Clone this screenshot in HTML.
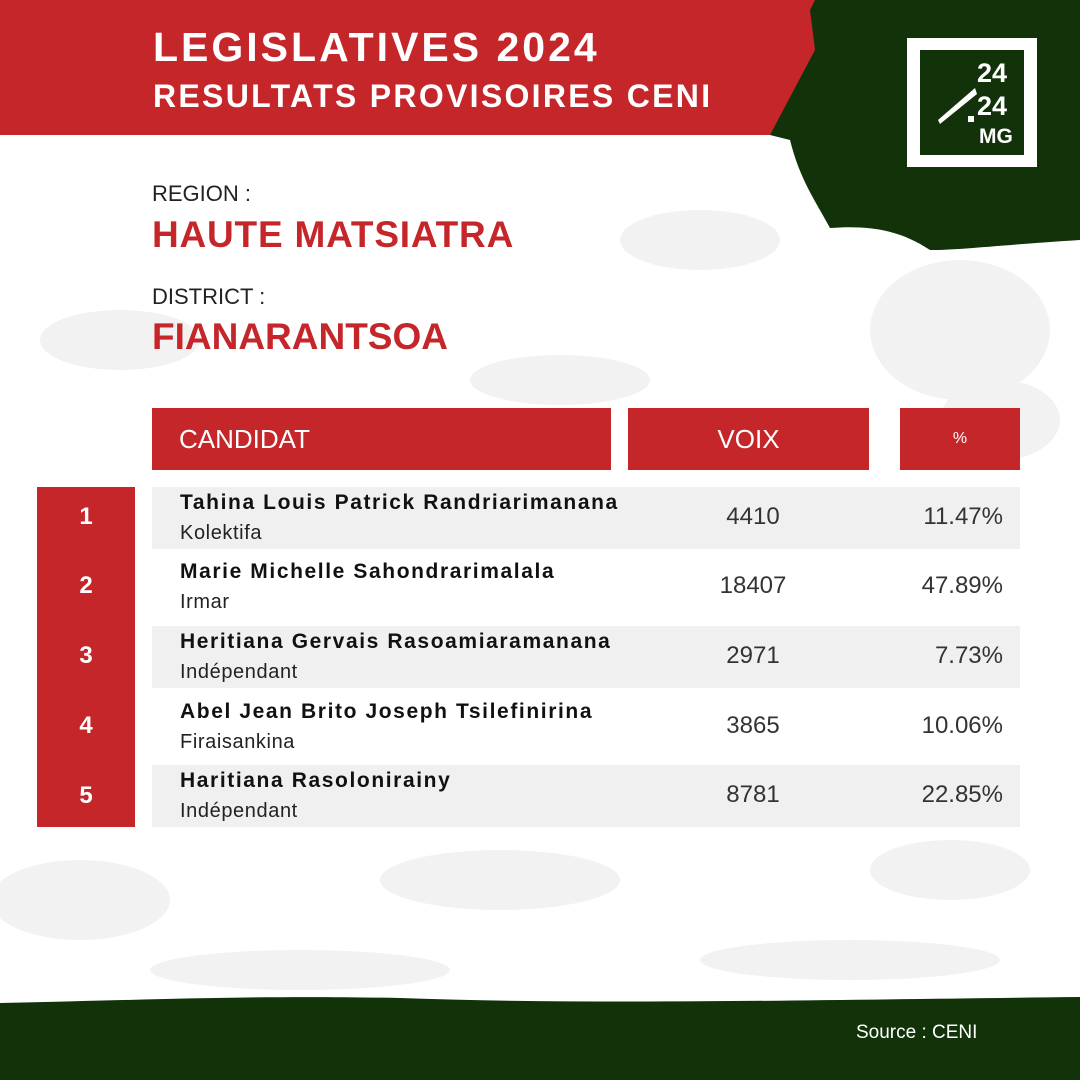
<!DOCTYPE html>
<html><head><meta charset="utf-8"><style>
*{margin:0;padding:0;box-sizing:border-box}
body{width:1080px;height:1080px;position:relative;overflow:hidden;background:#fff;font-family:"Liberation Sans",sans-serif}
.a{position:absolute}
.red{background:#c4262a}
.hdr{color:#fff;font-size:26px;display:flex;align-items:center}
.row{position:absolute;left:152px;width:868px;height:62px}
.g{background:#f0f0f0}
.nm{position:absolute;left:28px;top:4px;font-weight:bold;font-size:21px;color:#111;letter-spacing:1.6px}
.pt{position:absolute;left:28px;top:35px;font-size:20px;color:#222;letter-spacing:0.6px}
.v{position:absolute;left:481px;width:240px;text-align:center;top:16px;font-size:24px;color:#333}
.p{position:absolute;left:731px;width:120px;text-align:right;top:16px;font-size:24px;color:#333}
.rk{position:absolute;left:37px;width:98px;text-align:center;color:#fff;font-weight:bold;font-size:24px}
</style></head><body>
<svg class="a" style="left:0;top:0" width="1080" height="1080">
<g fill="#f2f2f2">
<ellipse cx="960" cy="330" rx="90" ry="70"/><ellipse cx="1000" cy="420" rx="60" ry="40"/>
<ellipse cx="120" cy="340" rx="80" ry="30"/><ellipse cx="560" cy="380" rx="90" ry="25"/>
<ellipse cx="80" cy="900" rx="90" ry="40"/><ellipse cx="500" cy="880" rx="120" ry="30"/>
<ellipse cx="950" cy="870" rx="80" ry="30"/><ellipse cx="700" cy="240" rx="80" ry="30"/>
<ellipse cx="300" cy="970" rx="150" ry="20"/><ellipse cx="850" cy="960" rx="150" ry="20"/>
</g>
<path d="M0 0H815V135H0Z" fill="#c4262a"/>
<path d="M815 0H1080V240C1000 245 960 250 930 250C900 230 870 225 830 228C815 200 800 180 790 140L770 135L815 50L810 10Z" fill="#12320a"/>
<path d="M0 1003C150 1000 250 995 400 998C600 1005 800 1000 1080 997V1080H0Z" fill="#12320a"/>
<rect x="907" y="38" width="130" height="129" fill="#fff"/>
<rect x="920" y="50" width="104" height="105" fill="#12320a"/>
<text x="977" y="82" fill="#fff" font-family="Liberation Sans" font-weight="bold" font-size="27">24</text>
<text x="977" y="115" fill="#fff" font-family="Liberation Sans" font-weight="bold" font-size="27">24</text>
<text x="979" y="143" fill="#fff" font-family="Liberation Sans" font-weight="bold" font-size="21">MG</text>
<path d="M938 120L975 88L977 94L940 124Z" fill="#fff"/><rect x="968" y="116" width="6" height="6" fill="#fff"/>
</svg>
<div class="a" style="left:153px;top:24px;color:#fff;font-weight:bold;font-size:41px;line-height:46px;letter-spacing:3px">LEGISLATIVES 2024</div>
<div class="a" style="left:153px;top:76px;color:#fff;font-weight:bold;font-size:32px;line-height:40px;letter-spacing:2.3px">RESULTATS PROVISOIRES CENI</div>
<div class="a" style="left:152px;top:181px;font-size:22px;color:#222">REGION :</div>
<div class="a" style="left:152px;top:214px;font-size:37px;font-weight:bold;color:#c4262a;letter-spacing:0.8px">HAUTE MATSIATRA</div>
<div class="a" style="left:152px;top:284px;font-size:22px;color:#222">DISTRICT :</div>
<div class="a" style="left:152px;top:316px;font-size:37px;font-weight:bold;color:#c4262a">FIANARANTSOA</div>
<div class="a red hdr" style="left:152px;top:408px;width:459px;height:62px;padding-left:27px">CANDIDAT</div>
<div class="a red hdr" style="left:628px;top:408px;width:241px;height:62px;justify-content:center">VOIX</div>
<div class="a red hdr" style="left:900px;top:408px;width:120px;height:62px;justify-content:center;font-size:16px">%</div>
<div class="a red" style="left:37px;top:487px;width:98px;height:340px"></div>
<div class="rk" style="top:503px">1</div><div class="rk" style="top:572px">2</div><div class="rk" style="top:642px">3</div><div class="rk" style="top:712px">4</div><div class="rk" style="top:782px">5</div>
<div class="row g" style="top:487px"><div class="nm">Tahina Louis Patrick Randriarimanana</div><div class="pt">Kolektifa</div><div class="v">4410</div><div class="p">11.47%</div></div>
<div class="row" style="top:556px"><div class="nm">Marie Michelle Sahondrarimalala</div><div class="pt">Irmar</div><div class="v">18407</div><div class="p">47.89%</div></div>
<div class="row g" style="top:626px"><div class="nm">Heritiana Gervais Rasoamiaramanana</div><div class="pt">Indépendant</div><div class="v">2971</div><div class="p">7.73%</div></div>
<div class="row" style="top:696px"><div class="nm">Abel Jean Brito Joseph Tsilefinirina</div><div class="pt">Firaisankina</div><div class="v">3865</div><div class="p">10.06%</div></div>
<div class="row g" style="top:765px"><div class="nm">Haritiana Rasolonirainy</div><div class="pt">Indépendant</div><div class="v">8781</div><div class="p">22.85%</div></div>
<div class="a" style="left:856px;top:1022px;color:#fff;font-size:19px">Source : CENI</div>
</body></html>
